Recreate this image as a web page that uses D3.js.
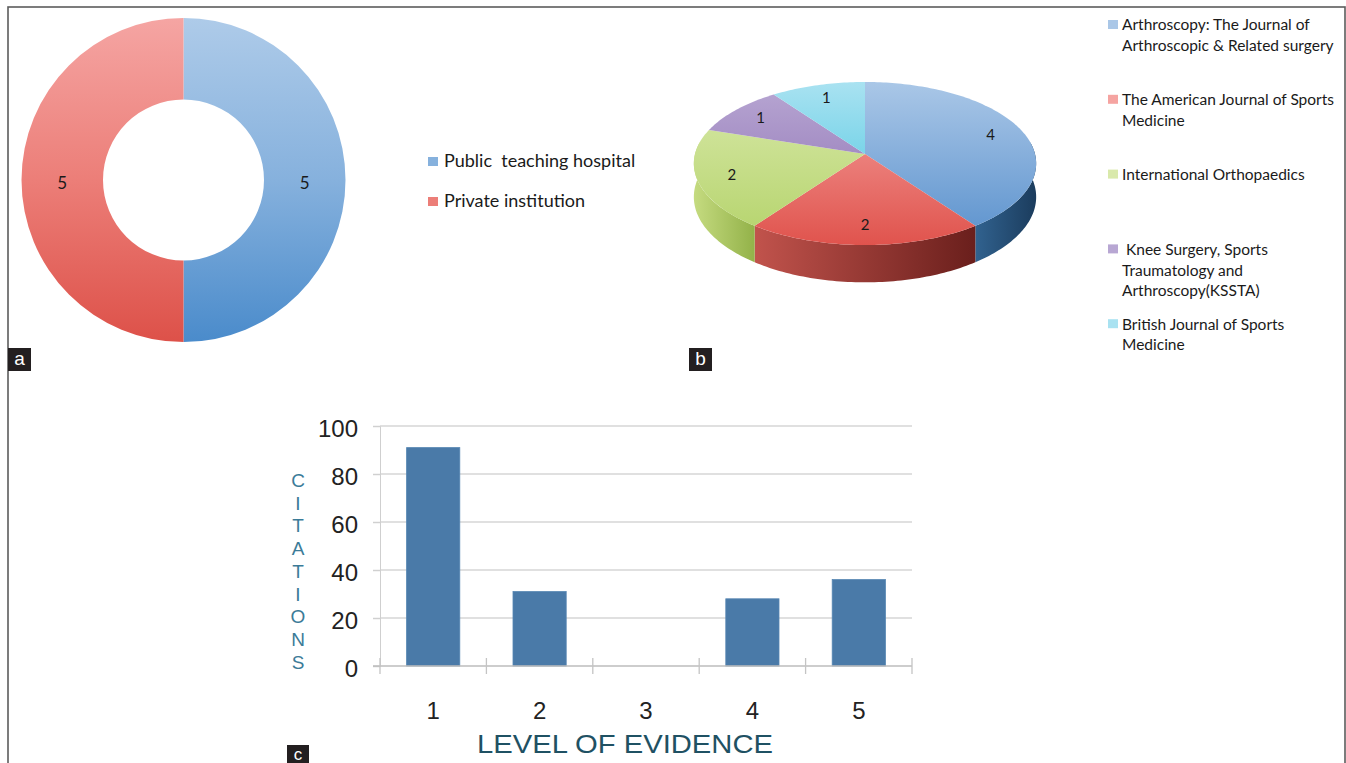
<!DOCTYPE html>
<html>
<head>
<meta charset="utf-8">
<script src="https://cdn.jsdelivr.net/npm/d3@7"></script>
<style>
  html, body { margin: 0; padding: 0; background: #fff; }
  svg { display: block; }
  text { white-space: pre; }
</style>
</head>
<body>
<svg id="fig" width="1346" height="763"></svg>
<script>
// ---- Panel a: type of institution ----
const institutions = ["Public  teaching hospital", "Private institution"];
const institutionCounts = [5, 5];

// ---- Panel b: publishing journal ----
const journalLines = [
  ["Arthroscopy: The Journal of", "Arthroscopic & Related surgery"],
  ["The American Journal of Sports", "Medicine"],
  ["International Orthopaedics"],
  [" Knee Surgery, Sports", "Traumatology and", "Arthroscopy(KSSTA)"],
  ["British Journal of Sports", "Medicine"]
];
const journalCounts = [4, 2, 2, 1, 1];

// ---- Panel c: citations by level of evidence ----
const evidenceLevels = ["1", "2", "3", "4", "5"];
const citations = [91, 31, 0, 28, 36];
const citationTicks = [0, 20, 40, 60, 80, 100];

// ---- palettes (top, middle, bottom of the shading) ----
const donutShade = [
  ["#aecbe9", "#86b1dd", "#4a8bcb"],
  ["#f5a5a3", "#ec7e78", "#dd5149"]
];
const pieTop = ["#aac7e7", "#f5a4a1", "#d9e9ab", "#b8a7d3", "#a9e2f1"];
const pieBottom = ["#5a91cd", "#e0534d", "#b4d36a", "#8a6cb0", "#3fc3de"];
const sideLeft = ["#31628f", "#c1534c", "#c5db80", "#7a5ea0", "#3aa9c2"];
const sideRight = ["#1b3c5d", "#6a1f1c", "#93b249", "#4f3a70", "#22788c"];

const svg = d3.select("#fig");
const defs = svg.append("defs");
const sans = "'Liberation Sans', Arial, sans-serif";
const humanist = "Lato, 'Open Sans', sans-serif";

function vGrad(id, colors, y0, y1) {
  const g = defs.append("linearGradient").attr("id", id)
    .attr("gradientUnits", "userSpaceOnUse")
    .attr("x1", 0).attr("x2", 0).attr("y1", y0).attr("y2", y1);
  colors.forEach((c, k) => g.append("stop")
    .attr("offset", k / (colors.length - 1)).attr("stop-color", c));
}
function hGrad(id, c0, c1) {
  const g = defs.append("linearGradient").attr("id", id)
    .attr("x1", 0).attr("x2", 1).attr("y1", 0).attr("y2", 0);
  g.append("stop").attr("offset", 0).attr("stop-color", c0);
  g.append("stop").attr("offset", 1).attr("stop-color", c1);
}

// outer frame
svg.append("rect").attr("x", 8).attr("y", 7).attr("width", 1337).attr("height", 800)
  .attr("fill", "none").attr("stroke", "#5c5c5c").attr("stroke-width", 1.6);

// ================= Panel a: donut =================
const dc = { x: 183.5, y: 180, r0: 80.5, r1: 162 };
// gradient coordinates are local to the translated donut group
donutShade.forEach((cs, i) => vGrad("dg" + i, cs, -dc.r1, dc.r1));
const donutPie = d3.pie().sort(null).startAngle(0).endAngle(2 * Math.PI)(institutionCounts);
const donutArc = d3.arc().innerRadius(dc.r0).outerRadius(dc.r1);
const gA = svg.append("g").attr("transform", `translate(${dc.x},${dc.y})`);
gA.selectAll("path").data(donutPie).join("path")
  .attr("d", donutArc).attr("fill", (d, i) => `url(#dg${i})`);
gA.selectAll("text").data(donutPie).join("text")
  .attr("transform", d => `translate(${donutArc.centroid(d)})`)
  .attr("dy", "0.35em").attr("y", 3).attr("text-anchor", "middle")
  .attr("font-family", humanist).attr("font-size", 17).attr("fill", "#1a1a1a")
  .text(d => d.data);

// legend a
const legA = svg.append("g").attr("transform", "translate(428,161)");
institutions.forEach((name, i) => {
  const g = legA.append("g").attr("transform", `translate(0,${i * 40})`);
  g.append("rect").attr("x", 0).attr("y", -4).attr("width", 10).attr("height", 9)
    .attr("fill", donutShade[i][1]);
  g.append("text").attr("x", 16).attr("y", 0).attr("dy", "0.35em")
    .attr("font-family", humanist).attr("font-size", 18).attr("fill", "#1a1a1a")
    .text(name);
});

// ================= Panel b: 3D pie =================
const P = { cx: 865, cy: 154, rx: 170, ky: 80.4, d: 8.58, h: 33 };
function proj(a, r, drop) {
  const X = r * Math.sin(a), Z = -r * Math.cos(a);
  const s = P.d / (P.d - Z);
  return [P.cx + P.rx * X * s, P.cy + P.ky * Z * s + drop * s];
}
function arcPts(a0, a1, drop) {
  const n = Math.max(2, Math.ceil((a1 - a0) / 0.02));
  return d3.range(n + 1).map(i => proj(a0 + (a1 - a0) * i / n, 1, drop));
}
pieTop.forEach((c, i) => vGrad("pt" + i, [c, pieBottom[i]], 82, 245));
sideLeft.forEach((c, i) => hGrad("ps" + i, c, sideRight[i]));

const pieB = d3.pie().sort(null).startAngle(0).endAngle(2 * Math.PI)(journalCounts);
const line = d3.line();
const gB = svg.append("g");

// rim (front half only)
pieB.forEach((d, i) => {
  const lo = Math.max(d.startAngle, Math.PI / 2 - 0.15);
  const hi = Math.min(d.endAngle, 3 * Math.PI / 2 + 0.15);
  if (lo >= hi) return;
  const pts = arcPts(lo, hi, 0).concat(arcPts(lo, hi, P.h).reverse());
  gB.append("path").attr("d", line(pts) + "Z").attr("fill", `url(#ps${i})`);
});
// top faces
pieB.forEach((d, i) => {
  const pts = [[P.cx, P.cy]].concat(arcPts(d.startAngle, d.endAngle, 0));
  gB.append("path").attr("d", line(pts) + "Z").attr("fill", `url(#pt${i})`);
});
// values
gB.selectAll("text.val").data(pieB).join("text").attr("class", "val")
  .attr("x", d => proj((d.startAngle + d.endAngle) / 2, 0.8, 0)[0])
  .attr("y", d => proj((d.startAngle + d.endAngle) / 2, 0.8, 0)[1])
  .attr("dy", "0.35em").attr("text-anchor", "middle")
  .attr("font-family", humanist).attr("font-size", 15).attr("fill", "#1a1a1a")
  .text(d => d.data);

// legend b
const legB = svg.append("g").attr("transform", "translate(1108,25)");
journalLines.forEach((lines, i) => {
  const g = legB.append("g").attr("transform", `translate(0,${i * 74.8})`);
  g.append("rect").attr("x", 0).attr("y", -5).attr("width", 10).attr("height", 9)
    .attr("fill", `url(#pt${i})`);
  lines.forEach((t, j) => {
    g.append("text").attr("x", 14).attr("y", j * 20.8).attr("dy", "0.35em")
      .attr("font-family", humanist).attr("font-size", 15.5).attr("fill", "#1a1a1a")
      .text(t);
  });
});

// ================= Panel c: bar chart =================
const x = d3.scaleBand().domain(evidenceLevels).range([380, 912])
  .paddingInner(0.5).paddingOuter(0.25);
const y = d3.scaleLinear().domain([0, 100]).range([666, 426]);
const gC = svg.append("g");

// gridlines
gC.append("g").selectAll("line").data(citationTicks.filter(v => v > 0)).join("line")
  .attr("x1", 380).attr("x2", 912).attr("y1", d => y(d)).attr("y2", d => y(d))
  .attr("stroke", "#d6d6d6").attr("stroke-width", 1.5);

// y axis
const yAxis = gC.append("g").attr("transform", "translate(380,0)")
  .call(d3.axisLeft(y).tickValues(citationTicks).tickSize(7).tickPadding(15));
yAxis.select(".domain").attr("stroke", "#cfcfcf").attr("stroke-width", 1);
yAxis.selectAll(".tick line").attr("stroke", "#d0d0d0").attr("stroke-width", 1.5);
yAxis.selectAll(".tick text").attr("font-family", sans).attr("font-size", 24)
  .attr("fill", "#222").attr("dy", "0.42em");

// bars
gC.append("g").selectAll("rect").data(citations).join("rect")
  .attr("x", (d, i) => x(evidenceLevels[i])).attr("width", x.bandwidth())
  .attr("y", d => y(d)).attr("height", d => y(0) - y(d))
  .attr("fill", "#4a7aa8").attr("stroke", "#5585b2").attr("stroke-width", 0.8);

// x axis
const xAxis = gC.append("g").attr("transform", `translate(0,${y(0)})`)
  .call(d3.axisBottom(x).tickSize(0).tickPadding(36));
xAxis.select(".domain").attr("d", "M373,0H912").attr("stroke", "#bdbdbd").attr("stroke-width", 1.5);
xAxis.selectAll(".tick text").attr("font-family", sans).attr("font-size", 24).attr("fill", "#222");
// category boundary marks
const bounds = evidenceLevels.map(c => x(c) - x.step() * x.paddingOuter()).concat([912]);
gC.append("g").selectAll("line").data(bounds).join("line")
  .attr("x1", d => d).attr("x2", d => d).attr("y1", y(0) - 8).attr("y2", y(0) + 8)
  .attr("stroke", "#c4c4c4").attr("stroke-width", 1.3);

// axis titles
gC.append("text").attr("x", 625).attr("y", 753).attr("text-anchor", "middle")
  .attr("font-family", sans).attr("font-size", 26).attr("fill", "#1f5163")
  .attr("textLength", 296).attr("lengthAdjust", "spacingAndGlyphs")
  .text("LEVEL OF EVIDENCE");
const yTitle = "CITATIONS".split("");
gC.append("g").selectAll("text").data(yTitle).join("text")
  .attr("x", 298).attr("y", (d, i) => 480 + i * 22.75).attr("dy", "0.36em")
  .attr("text-anchor", "middle").attr("font-family", sans).attr("font-size", 19)
  .attr("fill", "#3b7b98").text(d => d);

// ================= panel tags =================
const tags = [
  { t: "a", x: 8, y: 348, w: 23, h: 23, b: 17 },
  { t: "b", x: 689, y: 348, w: 23, h: 23, b: 17 },
  { t: "c", x: 287, y: 745, w: 22, h: 24, b: 15 }
];
const gT = svg.append("g");
tags.forEach(k => {
  gT.append("rect").attr("x", k.x).attr("y", k.y).attr("width", k.w).attr("height", k.h)
    .attr("fill", "#231f20");
  gT.append("text").attr("x", k.x + k.w / 2).attr("y", k.y + k.b).attr("text-anchor", "middle")
    .attr("font-family", sans).attr("font-size", k.t === "c" ? 17 : 19).attr("fill", "#fff").text(k.t);
});
</script>
</body>
</html>
